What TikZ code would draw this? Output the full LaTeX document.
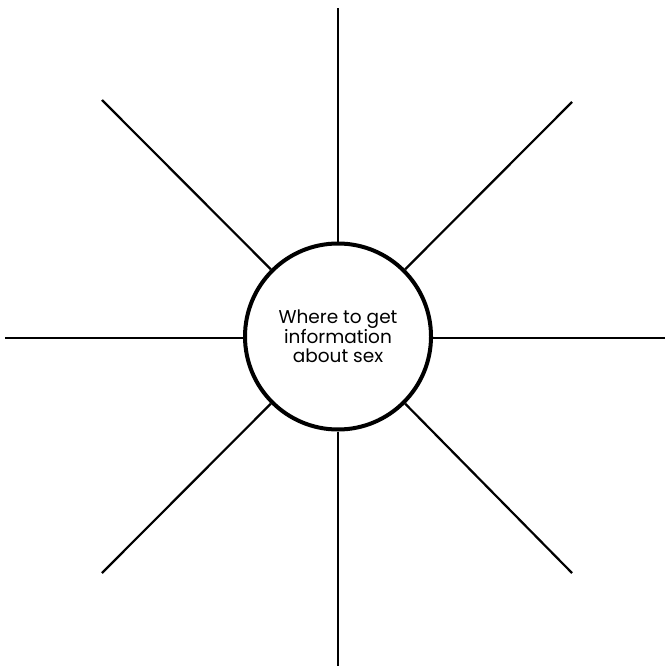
\documentclass[tikz,border=0pt]{standalone}
\usepackage{fontspec}
\setmainfont{Poppins}
\begin{document}
\begin{tikzpicture}[x=1pt,y=-1pt,
  hub/.style={circle,draw,line width=4pt,minimum size=186pt,inner sep=0pt,
    align=center,font=\fontsize{18.5}{19.5}\selectfont},
  spoke/.style={line width=2.2pt}]
\useasboundingbox (0,0) rectangle (666,671);
\node[hub] (c) at (338,336.5) {Where to get\\information\\about sex};
\coordinate (t) at (338,8);
\coordinate (b) at (338,666);
\coordinate (l) at (5,338);
\coordinate (r) at (665,338);
\coordinate (tl) at (102,100);
\coordinate (tr) at (572,102);
\coordinate (bl) at (102,573);
\coordinate (br) at (572,573);
\draw[spoke] (c.north) -- (t);
\draw[spoke] (c.south) -- (b);
\draw[spoke] (c.west |- l) -- (l);
\draw[spoke] (c.east |- r) -- (r);
\draw[spoke] (c.north west) -- (tl);
\draw[spoke] (c.north east) -- (tr);
\draw[spoke] (c.south west) -- (bl);
\draw[spoke] (c.south east) -- (br);
\end{tikzpicture}
\end{document}
